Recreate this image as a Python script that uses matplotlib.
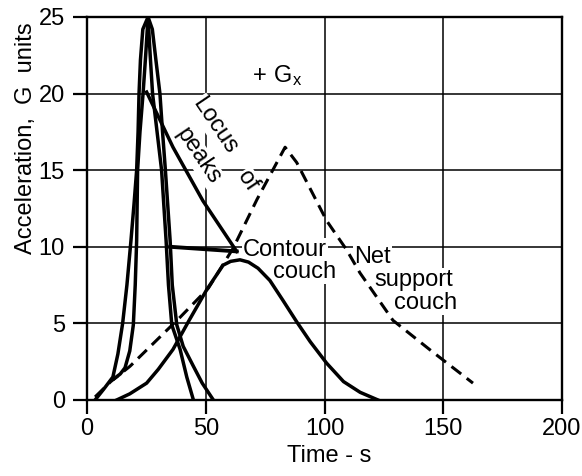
import matplotlib
matplotlib.use("Agg")
import matplotlib.pyplot as plt

plt.rcParams['font.family'] = ['Liberation Sans', 'DejaVu Sans']

# outer pulse, peak 25 G
outer_t = [3.4, 7, 10.9, 13, 15, 16.8, 18.5, 19.8, 20.9, 21.5, 21.9, 22.5, 23.5, 25.7,
           27.5, 29, 30.7, 31.8, 33, 35, 35.9, 37.8, 40.5, 44.8, 48.5, 53.2]
outer_g = [0, 0.7, 1.5, 3, 5, 7.5, 10.4, 12.8, 15, 17.5, 20, 22.2, 24.2, 25,
           24.2, 22.2, 20, 17.5, 15, 10.4, 7.5, 4.9, 3.5, 2.2, 1.1, 0]

# inner pulse, peak 25 G
inner_t = [11.5, 14, 16, 18, 19.5, 20.3, 20.9, 21.3, 22.3, 23.6, 24.7, 25.7,
           26.6, 27.6, 29.5, 31.4, 33.3, 34.3, 35.7, 39.2, 42, 44.8]
inner_g = [1.4, 1.7, 2.1, 3.2, 4.9, 7.5, 10.4, 15, 17.5, 20, 22.5, 25,
           22.5, 20, 17.5, 15, 10.4, 7.5, 4.9, 3.3, 1.5, 0]

# locus of peaks
locus_t = [25.1, 36.2, 48.8, 63]
locus_g = [20.1, 16.5, 13.0, 9.7]

# connector to contour couch peak
link_t = [35, 63]
link_g = [10.0, 9.7]

# contour couch
contour_t = [12.5, 18, 25.1, 30, 36.2, 43, 50.4, 57.3, 60.5, 64.4, 68, 72, 77,
             82.5, 88.3, 94, 100.9, 108, 115, 122.5]
contour_g = [0, 0.4, 1.1, 2.0, 3.3, 5.2, 7.2, 8.8, 9.05, 9.15, 9.0, 8.6, 7.8,
             6.5, 5.1, 3.8, 2.4, 1.2, 0.5, 0]

# net support couch
net_t = [3.4, 10, 18.1, 29.3, 39.2, 51.1, 61.5, 71.6, 83.4, 88.3, 100.9, 109.3,
         114.9, 128.8, 145, 155, 162.5]
net_g = [0.2, 1.2, 2.2, 3.9, 5.4, 7.3, 9.9, 13.1, 16.5, 15.5, 11.7, 9.8,
         8.3, 5.2, 3.2, 2.0, 1.1]

xticks = [0, 50, 100, 150, 200]
yticks = [0, 5, 10, 15, 20, 25]

fig = plt.figure(figsize=(5.82, 4.76), dpi=100)
ax = fig.add_axes([0.1495, 0.1597, 0.8162, 0.8046])

for xv in xticks[1:-1]:
    ax.axvline(xv, color='black', lw=1.1, zorder=1)
for yv in yticks[1:-1]:
    ax.axhline(yv, color='black', lw=1.1, zorder=1)

lw = 2.5
ax.plot(outer_t, outer_g, color='black', lw=lw, zorder=3)
ax.plot(inner_t, inner_g, color='black', lw=lw, zorder=3)
ax.plot(locus_t, locus_g, color='black', lw=lw, zorder=3)
ax.plot(link_t, link_g, color='black', lw=2.8, zorder=3)
ax.plot(contour_t, contour_g, color='black', lw=lw, zorder=3)
ax.plot(net_t, net_g, color='black', lw=2.2, ls=(0, (4, 2.3)), zorder=3)

ax.set_xlim(0, 200)
ax.set_ylim(0, 25)
ax.set_xticks(xticks)
ax.set_yticks(yticks)
ax.tick_params(direction='out', length=10, width=1.6, labelsize=17, pad=3)
ax.tick_params(axis='y', pad=6)
for s in ax.spines.values():
    s.set_linewidth(1.7)

ax.set_xlabel('Time - s', fontsize=17)
ax.xaxis.set_label_coords(0.51, -0.118)
ax.set_ylabel('Acceleration,  G  units', fontsize=17)
ax.yaxis.set_label_coords(-0.105, 0.684)

wb = dict(facecolor='white', edgecolor='none', pad=0.5)
fs = 17
ax.text(80, 21.2, r'$\mathregular{+\ G_x}$', fontsize=fs, ha='center', va='center',
        bbox=wb, zorder=4)
ax.text(53.7, 17.9, 'Locus', fontsize=fs, rotation=-56, rotation_mode='anchor',
        ha='center', va='center', bbox=wb, zorder=4)
ax.text(46.9, 15.9, 'peaks', fontsize=fs, rotation=-56, rotation_mode='anchor',
        ha='center', va='center', bbox=wb, zorder=4)
ax.text(67.4, 14.3, 'of', fontsize=fs, rotation=-56, rotation_mode='anchor',
        ha='center', va='center', bbox=wb, zorder=2)
ax.text(65.7, 9.8, 'Contour', fontsize=fs, ha='left', va='center', bbox=wb, zorder=2)
ax.text(91.6, 8.36, 'couch', fontsize=fs, ha='center', va='center', bbox=wb, zorder=2)
ax.text(120.2, 9.33, 'Net', fontsize=fs, ha='center', va='center', bbox=wb, zorder=2)
ax.text(137.5, 7.83, 'support', fontsize=fs, ha='center', va='center', bbox=wb, zorder=2)
ax.text(142.5, 6.33, 'couch', fontsize=fs, ha='center', va='center', bbox=wb, zorder=2)

fig.savefig('out.png', dpi=100)
